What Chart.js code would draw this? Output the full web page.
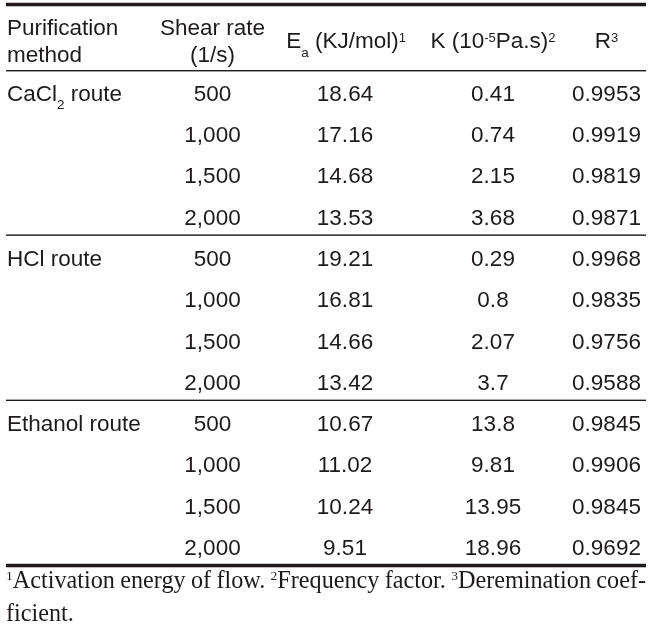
<!DOCTYPE html>
<html><head><meta charset="utf-8">
<script src="https://cdn.jsdelivr.net/npm/chart.js@4"></script>
<style>html,body{margin:0;padding:0;background:#fff;}canvas{display:block;}</style>
</head><body>
<canvas id="c" width="653" height="630"></canvas>
<script>
// ---------- data ----------
const methods = ['CaCl_{2} route', 'HCl route', 'Ethanol route'];
const shearRates = ['500', '1,000', '1,500', '2,000'];
const activationEnergy = [18.64, 17.16, 14.68, 13.53, 19.21, 16.81, 14.66, 13.42, 10.67, 11.02, 10.24, 9.51];
const frequencyFactor = [0.41, 0.74, 2.15, 3.68, 0.29, 0.8, 2.07, 3.7, 13.8, 9.81, 13.95, 18.96];
const rSquared = [0.9953, 0.9919, 0.9819, 0.9871, 0.9968, 0.9835, 0.9756, 0.9588, 0.9845, 0.9906, 0.9845, 0.9692];
const headMethod = ['Purification', 'method'];
const headShear = ['Shear rate', '(1/s)'];
const headEa = 'E_{a} (KJ/mol)^{1}';
const headK = 'K (10^{-5}Pa.s)^{2}';
const headR = 'R^{3}';
const footnote1 = '^{1}Activation energy of flow. ^{2}Frequency factor. ^{3}Deremination coef-';
const footnote2 = 'ficient.';

// ---------- layout / style ----------
const W = 653, H = 630;
const ROW0 = 100.7, PITCH = 41.3;           // row baseline mapping for the y scale
const COLX = { method: 7, shear: 212.5, ea: 345, eaHead: 346, k: 493, r: 606.5 };
const RULE_L = 6, RULE_R = 646;
const INK = '#1e1a1b';
const SANS = { family: '"Liberation Sans", Arial, sans-serif', size: 22.5, subSize: 13.5, subDy: 8.5, supSize: 13, supDy: 6.5 };
const SERIF = { family: '"Liberation Serif", "Times New Roman", serif', size: 24.2, subSize: 13, subDy: 7, supSize: 13.5, supDy: 7.5 };

function parseRich(s) {
  const segs = []; const re = /([_^])\{([^}]*)\}/g; let last = 0, m;
  while ((m = re.exec(s))) {
    if (m.index > last) segs.push({ t: s.slice(last, m.index), k: 'n' });
    segs.push({ t: m[2], k: m[1] === '_' ? 'sub' : 'sup' });
    last = re.lastIndex;
  }
  if (last < s.length) segs.push({ t: s.slice(last), k: 'n' });
  return segs;
}
function drawRich(ctx, s, x, y, align, st, justifyTo) {
  const fontFor = k => (k === 'n' ? st.size : (k === 'sub' ? st.subSize : st.supSize)) + 'px ' + st.family;
  const toks = [];
  parseRich(s).forEach(sg => {
    if (sg.k === 'n') sg.t.split(/( )/).forEach(p => { if (p !== '') toks.push({ t: p, k: 'n', space: p === ' ' }); });
    else toks.push({ t: sg.t, k: sg.k });
  });
  let total = 0, nsp = 0;
  toks.forEach(tk => { ctx.font = fontFor(tk.k); tk.w = ctx.measureText(tk.t).width; total += tk.w; if (tk.space) nsp++; });
  let extra = 0;
  if (justifyTo != null && nsp) extra = (justifyTo - x - total) / nsp;
  let cx = align === 'center' ? x - total / 2 : x;
  toks.forEach(tk => {
    ctx.font = fontFor(tk.k);
    const dy = tk.k === 'sub' ? st.subDy : (tk.k === 'sup' ? -st.supDy : 0);
    if (!tk.space) ctx.fillText(tk.t, cx, y + dy);
    cx += tk.w + (tk.space ? extra : 0);
  });
}

const tablePlugin = {
  id: 'tablePlugin',
  beforeDraw(chart) {
    const c = chart.ctx; c.save(); c.fillStyle = '#fff'; c.fillRect(0, 0, chart.width, chart.height); c.restore();
  },
  afterDraw(chart) {
    const ctx = chart.ctx, xs = chart.scales.x, ys = chart.scales.y;
    const X = v => xs.getPixelForValue(v), Y = r => ys.getPixelForValue(r);
    ctx.save();
    ctx.fillStyle = INK; ctx.textAlign = 'left'; ctx.textBaseline = 'alphabetic';
    const rule = (r, th) => { const yy = Y(r); ctx.fillRect(X(RULE_L), yy - th / 2, X(RULE_R) - X(RULE_L), th); };
    // rules
    rule(-2.329, 3.5);
    rule(-0.726, 1.4);
    const nRows = activationEnergy.length, per = shearRates.length;
    for (let g = 1; g <= methods.length; g++) {
      const r = g * per - 1 + 0.255;
      rule(r, g === methods.length ? 3.5 : 1.4);
    }
    // header
    drawRich(ctx, headMethod[0], X(COLX.method), Y(-1.59), 'left', SANS);
    drawRich(ctx, headMethod[1], X(COLX.method), Y(-0.937), 'left', SANS);
    drawRich(ctx, headShear[0], X(COLX.shear), Y(-1.59), 'center', SANS);
    drawRich(ctx, headShear[1], X(COLX.shear), Y(-0.937), 'center', SANS);
    drawRich(ctx, headEa, X(COLX.eaHead), Y(-1.264), 'center', SANS);
    drawRich(ctx, headK, X(COLX.k), Y(-1.264), 'center', SANS);
    drawRich(ctx, headR, X(COLX.r), Y(-1.264), 'center', SANS);
    // body
    for (let i = 0; i < nRows; i++) {
      const yy = Y(i);
      if (i % per === 0) drawRich(ctx, methods[i / per], X(COLX.method), yy, 'left', SANS);
      drawRich(ctx, shearRates[i % per], X(COLX.shear), yy, 'center', SANS);
      drawRich(ctx, String(activationEnergy[i]), X(COLX.ea), yy, 'center', SANS);
      drawRich(ctx, String(frequencyFactor[i]), X(COLX.k), yy, 'center', SANS);
      drawRich(ctx, String(rSquared[i]), X(COLX.r), yy, 'center', SANS);
    }
    // footnote
    drawRich(ctx, footnote1, X(RULE_L), Y(11.796), 'left', SERIF, X(RULE_R));
    drawRich(ctx, footnote2, X(RULE_L), Y(12.596), 'left', SERIF);
    ctx.restore();
  }
};

new Chart(document.getElementById('c'), {
  type: 'scatter',
  data: { datasets: [{ data: [], pointRadius: 0 }] },
  options: {
    responsive: false, animation: false, devicePixelRatio: 1,
    layout: { padding: 0 },
    plugins: { legend: { display: false }, tooltip: { enabled: false } },
    scales: {
      x: { type: 'linear', display: false, min: 0, max: W },
      y: { type: 'linear', display: false, reverse: true, min: -ROW0 / PITCH, max: (H - ROW0) / PITCH }
    }
  },
  plugins: [tablePlugin]
});
</script>
</body></html>
